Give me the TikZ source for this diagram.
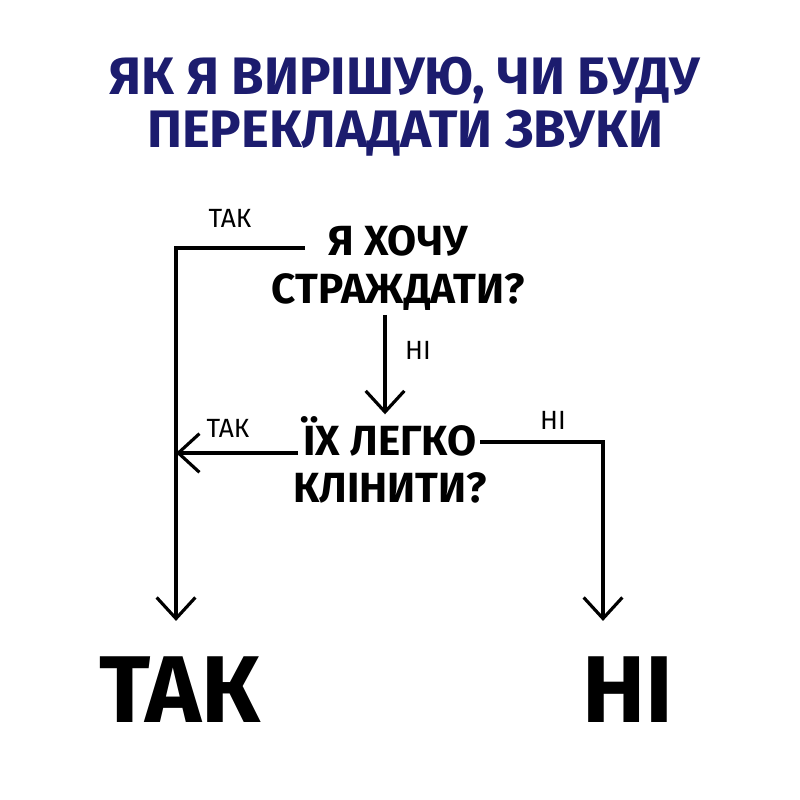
\documentclass[tikz,border=0pt]{standalone}
\usepackage{fontspec}
\setmainfont{Fira Sans}
\usetikzlibrary{arrows.meta,positioning,calc}
\definecolor{titleblue}{RGB}{28,28,110}

\tikzset{
    question/.style={font=\fontsize{24}{27}\selectfont\bfseries, align=center, inner sep=1pt},
    answer/.style={font=\fontsize{15}{17}\selectfont},
    final/.style={font=\fontsize{54}{60}\selectfont\bfseries},
    flow/.style={line width=2.2pt},
    flowarrow/.style={line width=2pt, -{Straight Barb[length=12pt, width=22pt, line width=1.8pt]}}
}

\begin{document}
\begin{tikzpicture}
    \useasboundingbox (0,0) rectangle (16,16);

    \node[font=\fontsize{30}{30}\selectfont\bfseries, text=titleblue, align=center] (title) at (8.1,13.87)
        {ЯК Я ВИРІШУЮ, ЧИ БУДУ\\ПЕРЕКЛАДАТИ ЗВУКИ};

    \node[question] (q1) at (7.96,10.64) {Я ХОЧУ\\СТРАЖДАТИ?};
    \node[question] (q2) at (7.8,6.8) {ЇХ ЛЕГКО\\КЛІНИТИ?};

    \node[final] (yes) at (3.6,2.2) {ТАК};
    \node[final] (no) at (12.56,2.2) {НІ};

    % first question
    \coordinate (q1left) at (6.1,11.04);
    \coordinate (yescorner) at (3.52,11.04);
    \coordinate (yesend) at ($(yes.north -| yescorner)+(0,0.6)$);
    \coordinate (q1down) at (7.7,9.7);
    \draw[flowarrow] (q1left) -- (yescorner) -- (yesend);
    \draw[flowarrow] (q1down) -- (q1down |- q2.north);
    \node[answer] (q1yes) at (4.6,11.64) {ТАК};
    \node[answer] (q1no) at (8.36,9.0) {НІ};

    % second question
    \coordinate (q2left) at (5.96,6.94);
    \coordinate (q2right) at (9.6,7.16);
    \coordinate (nocorner) at (12.06,7.16);
    \coordinate (noend) at ($(no.north -| nocorner)+(0,0.6)$);
    \draw[flowarrow] (q2left) -- (q2left -| yescorner);
    \draw[flowarrow] (q2right) -- (nocorner) -- (noend);
    \node[answer] (q2yes) at (4.56,7.44) {ТАК};
    \node[answer] (q2no) at (11.06,7.6) {НІ};
\end{tikzpicture}
\end{document}
